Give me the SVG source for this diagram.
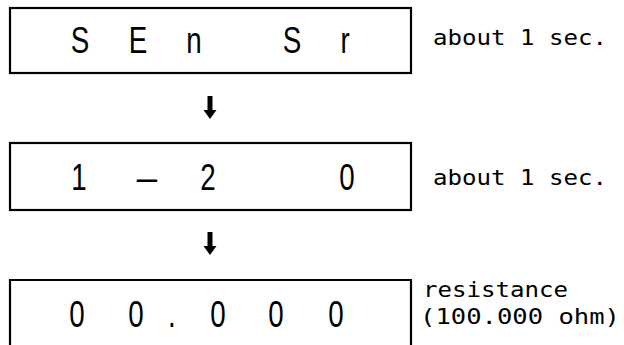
<svg xmlns="http://www.w3.org/2000/svg" width="624" height="345" viewBox="0 0 624 345">
  <style>
    .box { fill: #fff; stroke: #000; stroke-width: 2.2; }
    .seg { font-family: "Liberation Sans", "DejaVu Sans", sans-serif; font-size: 37px; fill: #000; text-anchor: middle; }
    .note { font-family: "DejaVu Sans Mono", "Liberation Mono", monospace; font-size: 22px; fill: #000; }
    .arrow { fill: #000; stroke: none; }
  </style>
  <defs>
    <path id="dnArrow" d="M-2.5,0 H2.5 V14 H6.5 L0,23 L-6.5,14 H-2.5 Z"/>
  </defs>
  <rect width="624" height="345" fill="#fff"/>

  <g id="node-sensr">
    <rect class="box" x="10" y="8" width="401" height="65"/>
    <g transform="scale(0.75 1)">
      <text class="seg" x="106.7" y="53">S</text>
      <text class="seg" x="184" y="53">E</text>
      <text class="seg" x="258.7" y="53">n</text>
      <text class="seg" x="389.3" y="53">S</text>
      <text class="seg" x="460" y="53">r</text>
    </g>
    <text class="note" x="433" y="45" textLength="174" lengthAdjust="spacingAndGlyphs">about 1 sec.</text>
  </g>

  <g id="node-1-20">
    <rect class="box" x="10" y="143" width="401" height="67"/>
    <g transform="scale(0.75 1)">
      <text class="seg" x="105.3" y="190">1</text>
      <text class="seg" x="277.3" y="190">2</text>
      <text class="seg" x="462.7" y="190">0</text>
    </g>
    <g transform="translate(147 190) scale(0.55 1)">
      <text class="seg" x="0" y="0">—</text>
    </g>
    <text class="note" x="433" y="185" textLength="174" lengthAdjust="spacingAndGlyphs">about 1 sec.</text>
  </g>

  <g id="node-resistance">
    <path class="box" d="M10,350 V280 H411 V350"/>
    <g transform="scale(0.75 1)">
      <text class="seg" x="102.7" y="327">0</text>
      <text class="seg" x="181.3" y="327">0</text>
      <text class="seg" x="229.3" y="327">.</text>
      <text class="seg" x="290.7" y="327">0</text>
      <text class="seg" x="368" y="327">0</text>
      <text class="seg" x="448" y="327">0</text>
    </g>
    <text class="note" x="423" y="297" textLength="145" lengthAdjust="spacingAndGlyphs">resistance</text>
    <text class="note" x="420" y="324" textLength="200" lengthAdjust="spacingAndGlyphs">(100.000 ohm)</text>
  </g>

  <g id="connectors">
    <use href="#dnArrow" class="arrow" x="210" y="96"/>
    <use href="#dnArrow" class="arrow" x="210" y="232"/>
  </g>
</svg>
